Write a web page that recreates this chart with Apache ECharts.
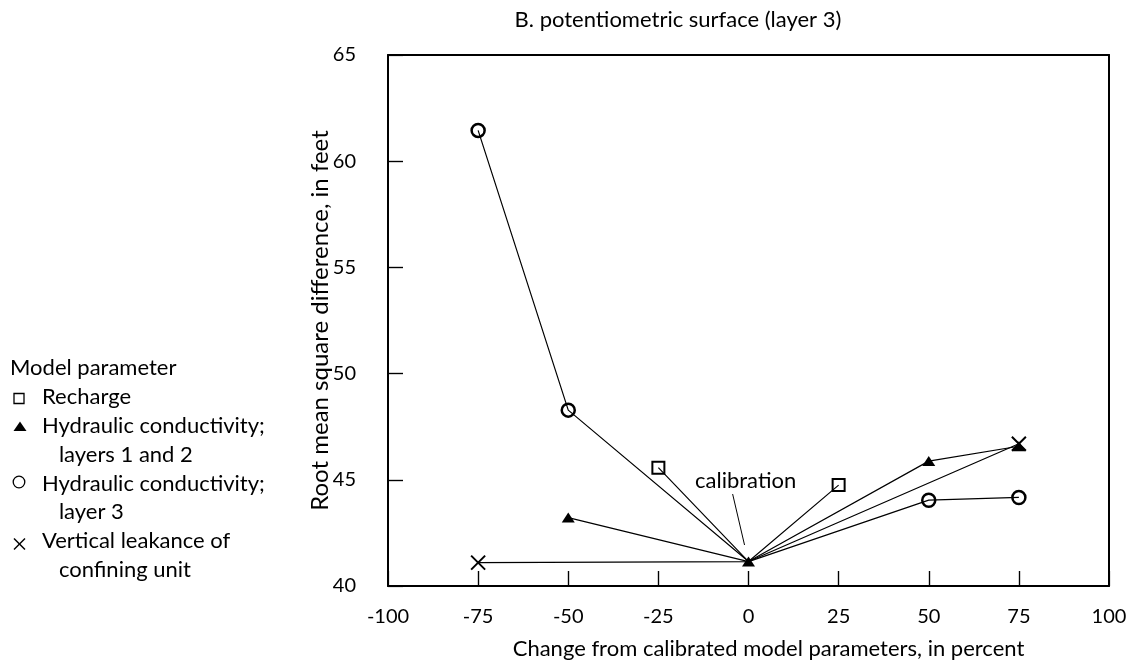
<!DOCTYPE html>
<html>
<head>
<meta charset="utf-8">
<script src="https://cdn.jsdelivr.net/npm/echarts@6/dist/echarts.min.js"></script>
<style>
html,body{margin:0;padding:0;background:#fff;}
#chart{width:1137px;height:665px;}
</style>
</head>
<body>
<div id="chart"></div>
<script>
// ---- data ----
const xTicks = [-100, -75, -50, -25, 0, 25, 50, 75, 100];
const yTicks = [40, 45, 50, 55, 60, 65];

const rechargeX = [-25, 0, 25];
const rechargeY = [45.57, 41.15, 44.75];

const hk12X = [-50, 0, 50, 75];
const hk12Y = [43.22, 41.15, 45.88, 46.58];

const hk3X = [-75, -50, 0, 50, 75];
const hk3Y = [61.45, 48.28, 41.15, 44.04, 44.17];

const leakX = [-75, 0, 75];
const leakY = [41.1, 41.15, 46.7];

const seriesNames = [
  'Recharge',
  'Hydraulic conductivity; layers 1 and 2',
  'Hydraulic conductivity; layer 3',
  'Vertical leakance of confining unit'
];

const FONT = 'Lato';
const xPath = 'path://M0,0L10,10M10,0L0,10';

// layout
const W = 1137, H = 665;
const G = { left: 388, right: 28, top: 55, bottom: 79 };
const TICK_LEN = 15;

function pairs(xs, ys, hideAtZero) {
  return xs.map((x, i) => {
    if (hideAtZero && x === 0) return { value: [x, ys[i]], symbol: 'none' };
    return [x, ys[i]];
  });
}

const xMin = xTicks[0], xMax = xTicks[xTicks.length - 1];
const yMin = yTicks[0], yMax = yTicks[yTicks.length - 1];
// tick length expressed in axis units (pixel length / axis scale)
const xTickUnits = TICK_LEN * (xMax - xMin) / (W - G.left - G.right);
const yTickUnits = TICK_LEN * (yMax - yMin) / (H - G.top - G.bottom);

const tickLines = [];
xTicks.slice(1, -1).forEach(v => tickLines.push([{ coord: [v, yMin] }, { coord: [v, yMin + yTickUnits] }]));
yTicks.slice(1, -1).forEach(v => tickLines.push([{ coord: [xMin, v] }, { coord: [xMin + xTickUnits, v] }]));

const chart = echarts.init(document.getElementById('chart'), null, { renderer: 'canvas' });

const baseLine = { color: '#000', width: 1.2 };
const frameLine = { show: true, onZero: false, lineStyle: { color: '#000', width: 2 } };
const tickStyle = { show: true, inside: true, length: TICK_LEN, lineStyle: { color: '#000', width: 1.2 } };

const option = {
  animation: false,
  backgroundColor: '#fff',
  title: {
    text: 'B. potentiometric surface (layer 3)',
    left: 673,
    top: 4,
    textAlign: 'center',
    textStyle: { fontFamily: FONT, fontSize: 22, fontWeight: 'normal', color: '#000' }
  },
  grid: {
    left: G.left, right: G.right, top: G.top, bottom: G.bottom, show: false
  },
  xAxis: [
    {
      type: 'value', position: 'bottom', min: xMin, max: xMax, interval: 25,
      name: 'Change from calibrated model parameters, in percent',
      nameLocation: 'middle', nameGap: 52, nameMoveOverlap: false,
      nameTextStyle: { fontFamily: FONT, fontSize: 22, color: '#000', padding: [0, 0, 0, 40] },
      axisLine: frameLine,
      axisTick: tickStyle,
      axisLabel: { show: true, fontFamily: FONT, fontSize: 20, color: '#000', margin: 21,
        formatter: v => xTicks.includes(v) ? String(v) : '' },
      splitLine: { show: false }
    },
    {
      type: 'value', position: 'top', min: xMin, max: xMax, interval: 25,
      axisLine: frameLine, axisTick: { show: false }, axisLabel: { show: false },
      splitLine: { show: false }
    }
  ],
  yAxis: [
    {
      type: 'value', position: 'left', min: yMin, max: yMax, interval: 5,
      name: 'Root mean square difference, in feet',
      nameLocation: 'middle', nameGap: 56, nameMoveOverlap: false,
      nameTextStyle: { fontFamily: FONT, fontSize: 24, color: '#000' },
      axisLine: frameLine,
      axisTick: tickStyle,
      axisLabel: { show: true, fontFamily: FONT, fontSize: 20, color: '#000', margin: 32,
        formatter: v => yTicks.includes(v) ? String(v) : '' },
      splitLine: { show: false }
    },
    {
      type: 'value', position: 'right', min: yMin, max: yMax, interval: 5,
      axisLine: frameLine, axisTick: { show: false }, axisLabel: { show: false },
      splitLine: { show: false }
    }
  ],
  graphic: [
    {
      type: 'text', x: 10, y: 368,
      style: {
        text: 'Model parameter', verticalAlign: 'middle',
        font: '22px ' + FONT, fill: '#000'
      }
    },
    {
      type: 'text', x: 42, y: 383,
      style: {
        text: 'Recharge\nHydraulic conductivity;\n   layers 1 and 2\nHydraulic conductivity;\n   layer 3\nVertical leakance of\n   confining unit',
        font: '22px ' + FONT, fill: '#000', lineHeight: 28.7
      }
    },
    { type: 'rect', shape: { x: 14, y: 393.5, width: 10, height: 10 },
      style: { fill: 'none', stroke: '#000', lineWidth: 1.3 } },
    { type: 'polygon', shape: { points: [[20, 421.5], [26.5, 431], [13.5, 431]] },
      style: { fill: '#000' } },
    { type: 'circle', shape: { cx: 19, cy: 482, r: 5.8 },
      style: { fill: 'none', stroke: '#000', lineWidth: 1.3 } },
    { type: 'line', shape: { x1: 14, y1: 538.5, x2: 25, y2: 549.5 },
      style: { stroke: '#000', lineWidth: 1.5 } },
    { type: 'line', shape: { x1: 25, y1: 538.5, x2: 14, y2: 549.5 },
      style: { stroke: '#000', lineWidth: 1.5 } }
  ],
  series: [
    {
      name: 'axis ticks', type: 'line', silent: true,
      data: [[xMin, yMin]], symbol: 'none', lineStyle: { width: 0 }, z: 2,
      markLine: {
        silent: true, symbol: ['none', 'none'], animation: false,
        lineStyle: { color: '#000', width: 1.2, type: 'solid' },
        label: { show: false },
        emphasis: { disabled: true },
        data: tickLines
      }
    },
    {
      name: seriesNames[0], type: 'line',
      data: pairs(rechargeX, rechargeY, true),
      symbol: 'rect', symbolSize: 12,
      itemStyle: { color: 'rgba(0,0,0,0)', borderColor: '#000', borderWidth: 2 },
      lineStyle: baseLine, z: 3
    },
    {
      name: seriesNames[1], type: 'line',
      data: pairs(hk12X, hk12Y, false),
      symbol: 'triangle', symbolSize: [13, 10],
      itemStyle: { color: '#000', borderWidth: 0 },
      lineStyle: baseLine, z: 4,
      markLine: {
        silent: true, symbol: ['none', 'none'],
        lineStyle: { color: '#000', width: 1, type: 'solid' },
        label: { show: false },
        data: [[{ coord: [-4.4, 44.33] }, { coord: [-1.1, 41.93] }]]
      },
      markPoint: {
        silent: true, symbol: 'circle', symbolSize: 1,
        itemStyle: { color: 'rgba(0,0,0,0)' },
        label: { show: true, position: 'inside', formatter: 'calibration',
          fontFamily: FONT, fontSize: 22, color: '#000' },
        data: [{ coord: [-0.8, 44.94] }]
      }
    },
    {
      name: seriesNames[2], type: 'line',
      data: pairs(hk3X, hk3Y, true),
      symbol: 'circle', symbolSize: 13,
      itemStyle: { color: 'rgba(0,0,0,0)', borderColor: '#000', borderWidth: 2.5 },
      lineStyle: baseLine, z: 3
    },
    {
      name: seriesNames[3], type: 'line',
      data: pairs(leakX, leakY, true),
      symbol: xPath, symbolSize: 14,
      itemStyle: { color: 'rgba(0,0,0,0)', borderColor: '#000', borderWidth: 2 },
      lineStyle: baseLine, z: 5
    }
  ]
};

chart.setOption(option);
</script>
</body>
</html>
